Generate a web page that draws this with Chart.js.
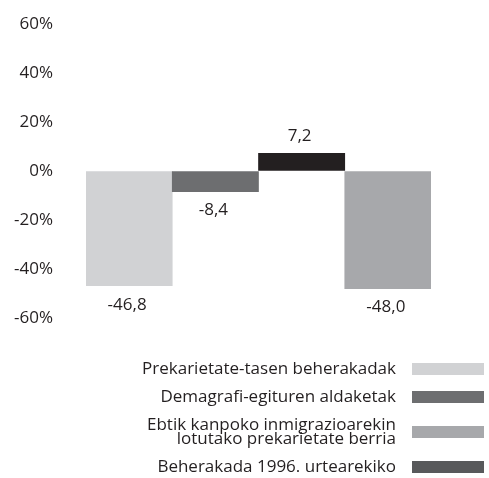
<!DOCTYPE html>
<html lang="eu">
<head>
    <meta charset="UTF-8">
    <title>Prekarietate-tasen aldaketak</title>
    <script src="https://cdn.jsdelivr.net/npm/chart.js"></script>
    <style>
        html, body { margin: 0; padding: 0; background: #fff; }
        #wrap { width: 489px; height: 478px; }
    </style>
</head>
<body>
    <div id="wrap"><canvas id="barChart"></canvas></div>
    <script>
        // datuak
        var categories = [
            ['Prekarietate-tasen beherakadak'],
            ['Demagrafi-egituren aldaketak'],
            ['Ebtik kanpoko inmigrazioarekin', 'lotutako prekarietate berria'],
            ['Beherakada 1996. urtearekiko']
        ];
        var values = [-46.8, -8.4, 7.2, -48.0];
        var yTicks = [-60, -40, -20, 0, 20, 40, 60];

        var barColors = ['#d1d2d4', '#6d6e70', '#231f20', '#a7a8ab'];
        var legendColors = ['#d1d2d4', '#6d6e70', '#a7a8ab', '#58595b'];
        var textColor = '#231f20';
        var fontFamily = '"Open Sans", sans-serif';

        function fmt(v) {
            return v.toFixed(1).replace('.', ',');
        }

        // balioen etiketak barren ondoan
        var valueLabels = {
            id: 'valueLabels',
            afterDatasetsDraw: function(chart) {
                var ctx = chart.ctx;
                var meta = chart.getDatasetMeta(0);
                ctx.save();
                ctx.font = '17px ' + fontFamily;
                ctx.fillStyle = textColor;
                ctx.textAlign = 'center';
                ctx.textBaseline = 'middle';
                meta.data.forEach(function(bar, i) {
                    var v = values[i];
                    var y = v < 0 ? bar.y + 19 : bar.y - 17;
                    ctx.fillText(fmt(v), bar.x - 2, y);
                });
                ctx.restore();
            }
        };

        // legenda behean, eskuinean
        var sideLegend = {
            id: 'sideLegend',
            afterDraw: function(chart) {
                var ctx = chart.ctx;
                var lineH = 14, gap = 14;
                var textRight = 396, boxLeft = 412, boxW = 72, boxH = 12;
                var y = 369;
                ctx.save();
                ctx.font = '17px ' + fontFamily;
                ctx.textAlign = 'right';
                ctx.textBaseline = 'middle';
                categories.forEach(function(lines, i) {
                    ctx.fillStyle = legendColors[i];
                    ctx.fillRect(boxLeft, y - boxH / 2, boxW, boxH);
                    ctx.fillStyle = textColor;
                    var top = y - (lines.length - 1) * lineH / 2;
                    lines.forEach(function(t, j) {
                        ctx.fillText(t, textRight, top + j * lineH);
                    });
                    if (i < categories.length - 1) {
                        y += (lines.length + categories[i + 1].length) * lineH / 2 + gap;
                    }
                });
                ctx.restore();
            }
        };

        var ctx = document.getElementById('barChart').getContext('2d');
        var barChart = new Chart(ctx, {
            type: 'bar',
            data: {
                labels: categories.map(function(l) { return l.join(' '); }),
                datasets: [{
                    data: values,
                    backgroundColor: barColors,
                    borderWidth: 0,
                    barPercentage: 1.0,
                    categoryPercentage: 1.0
                }]
            },
            options: {
                responsive: true,
                maintainAspectRatio: false,
                animation: false,
                layout: {
                    padding: { top: 24, right: 58, bottom: 160, left: 0 }
                },
                scales: {
                    x: { display: false },
                    y: {
                        min: -60,
                        max: 60,
                        afterBuildTicks: function(axis) {
                            axis.ticks = yTicks.map(function(v) { return { value: v }; });
                        },
                        afterFit: function(axis) { axis.width = 86; },
                        // tick-marra gardenak, etiketak ardatzetik urruntzeko
                        grid: {
                            display: true,
                            color: 'rgba(0,0,0,0)',
                            drawOnChartArea: false,
                            drawTicks: true,
                            tickLength: 33
                        },
                        border: { display: false },
                        ticks: {
                            padding: 0,
                            color: textColor,
                            font: { family: 'Open Sans', size: 17 },
                            callback: function(v) { return v + '%'; }
                        }
                    }
                },
                plugins: {
                    legend: { display: false },
                    tooltip: { enabled: false }
                }
            },
            plugins: [valueLabels, sideLegend]
        });
    </script>
</body>
</html>
